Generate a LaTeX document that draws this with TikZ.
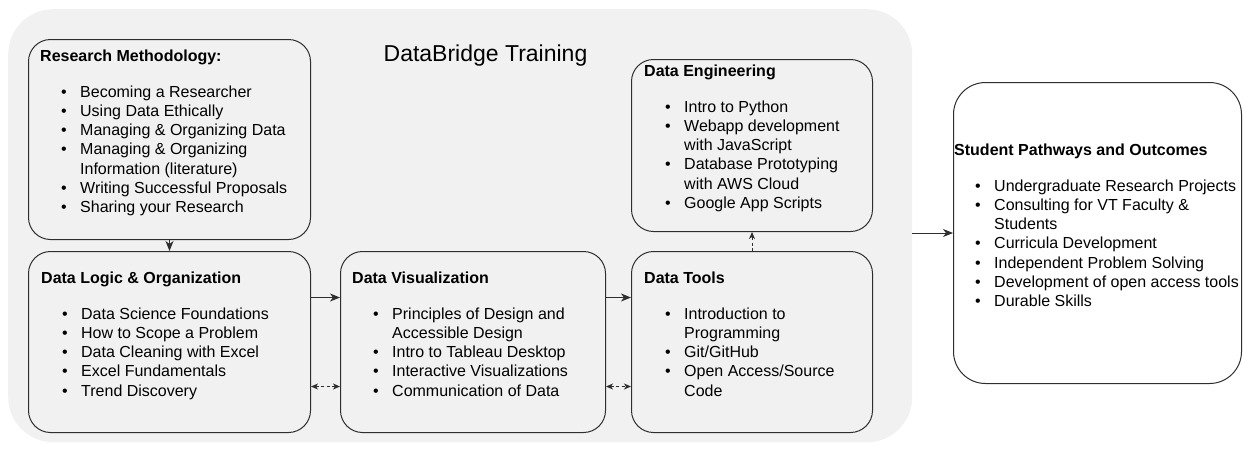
\documentclass[tikz,border=0pt]{standalone}
\usepackage{fontspec}
\setmainfont{Liberation Sans}
\usepackage{tikz}
\usetikzlibrary{arrows.meta,positioning}
\usepackage{xcolor}
\definecolor{panelgray}{HTML}{F1F1F1}
\definecolor{edgegray}{HTML}{2E2E2E}
\newcommand{\bitem}[1]{\hspace*{21pt}\makebox[19pt][l]{\textbullet}#1}
\newcommand{\bcont}[1]{\hspace*{40pt}#1}

\begin{document}
\begin{tikzpicture}[x=1pt,y=-1pt,>={Stealth[length=10pt,width=8pt,inset=3pt]},
  bgbox/.style={fill=panelgray,rounded corners=45pt,anchor=north west,inner sep=0pt},
  topicbox/.style={draw=edgegray,line width=1pt,rounded corners=22pt,anchor=north west,inner sep=0pt},
  listtext/.style={align=left,inner sep=0pt,font=\fontsize{16}{19.2}\selectfont},
  flow/.style={draw=edgegray,line width=1pt,->},
  dualflow/.style={draw=edgegray,line width=1pt,dash pattern=on 3pt off 2.5pt,
    arrows={Stealth[length=7pt,width=6pt,inset=2pt]-Stealth[length=7pt,width=6pt,inset=2pt]}}]
  \useasboundingbox (0,0) rectangle (1244,451);
  % Training panel
  \node[bgbox,minimum width=904pt,minimum height=433pt] (training) at (8,9) {};
  \node[font=\fontsize{23}{27}\selectfont,anchor=base] (title) at (485.5,61.7) {DataBridge Training};
  % Topic boxes
  \node[topicbox,minimum width=282pt,minimum height=200pt] (research) at (28,39) {};
  \node[topicbox,minimum width=282pt,minimum height=181pt] (logic) at (28,251) {};
  \node[topicbox,minimum width=265pt,minimum height=181pt] (visual) at (340,251) {};
  \node[topicbox,minimum width=241pt,minimum height=172pt] (engineering) at (631,59) {};
  \node[topicbox,minimum width=241pt,minimum height=181pt] (tools) at (631,251) {};
  \node[topicbox,fill=white,rounded corners=32pt,minimum width=288pt,minimum height=301pt] (pathways) at (953,82) {};
  % Box contents
  \node[listtext,below right=11pt and 12pt of research.north west] (researchtext) {%
    \textbf{Research Methodology:}\\[16.3pt]
    \bitem{Becoming a Researcher}\\
    \bitem{Using Data Ethically}\\
    \bitem{Managing \& Organizing Data}\\
    \bitem{Managing \& Organizing}\\
    \bcont{Information (literature)}\\
    \bitem{Writing Successful Proposals}\\
    \bitem{Sharing your Research}};
  \node[listtext,below right=21pt and 13pt of logic.north west] (logictext) {%
    \textbf{Data Logic \& Organization}\\[16.3pt]
    \bitem{Data Science Foundations}\\
    \bitem{How to Scope a Problem}\\
    \bitem{Data Cleaning with Excel}\\
    \bitem{Excel Fundamentals}\\
    \bitem{Trend Discovery}};
  \node[listtext,below right=21pt and 12pt of visual.north west] (visualtext) {%
    \textbf{Data Visualization}\\[16.3pt]
    \bitem{Principles of Design and}\\
    \bcont{Accessible Design}\\
    \bitem{Intro to Tableau Desktop}\\
    \bitem{Interactive Visualizations}\\
    \bitem{Communication of Data}};
  \node[listtext,below right=6pt and 13pt of engineering.north west] (engineeringtext) {%
    \textbf{Data Engineering}\\[16.3pt]
    \bitem{Intro to Python}\\
    \bitem{Webapp development}\\
    \bcont{with JavaScript}\\
    \bitem{Database Prototyping}\\
    \bcont{with AWS Cloud}\\
    \bitem{Google App Scripts}};
  \node[listtext,below right=21pt and 13pt of tools.north west] (toolstext) {%
    \textbf{Data Tools}\\[16.3pt]
    \bitem{Introduction to}\\
    \bcont{Programming}\\
    \bitem{Git/GitHub}\\
    \bitem{Open Access/Source}\\
    \bcont{Code}};
  \node[listtext,below right=62pt and 1pt of pathways.north west] (pathwaystext) {%
    \textbf{Student Pathways and Outcomes}\\[16.3pt]
    \bitem{Undergraduate Research Projects}\\
    \bitem{Consulting for VT Faculty \&}\\
    \bcont{Students}\\
    \bitem{Curricula Development}\\
    \bitem{Independent Problem Solving}\\
    \bitem{Development of open access tools}\\
    \bitem{Durable Skills}};
  % Connectors
  \draw[flow] (research.south) -- (logic.north);
  \draw[flow] ([yshift=44.5pt]logic.east) -- ([yshift=44.5pt]visual.west);
  \draw[flow] ([yshift=44.5pt]visual.east) -- ([yshift=44.5pt]tools.west);
  \draw[dualflow] ([yshift=-44.5pt]logic.east) -- ([yshift=-44.5pt]visual.west);
  \draw[dualflow] ([yshift=-44.5pt]visual.east) -- ([yshift=-44.5pt]tools.west);
  \draw[dualflow,arrows={-Stealth[length=7pt,width=6pt,inset=2pt]}] (tools.north) -- (engineering.south);
  \draw[flow] (training.east |- pathways.west) -- (pathways.west);
\end{tikzpicture}
\end{document}
